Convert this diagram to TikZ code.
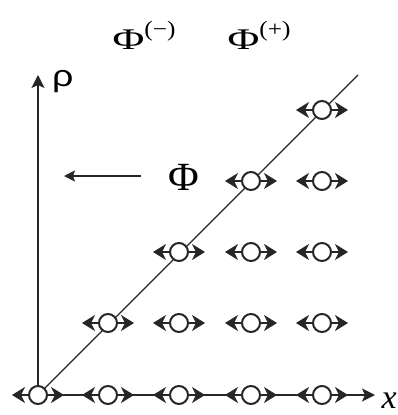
\documentclass[tikz,border=0pt]{standalone}
\usepackage{fontspec}
\usepackage{graphicx}
\newfontfamily\serifgr{Liberation Serif}
\newfontfamily\sansgr{Liberation Sans}
\usetikzlibrary{arrows.meta}
\begin{document}
\begin{tikzpicture}[x=1pt,y=-1pt,
  site/.style={circle,draw=black!85,fill=white,line width=2pt,minimum size=18pt,inner sep=0pt},
  harr/.style={line width=1.8pt,draw=black!85,-{Stealth[length=13pt,width=16pt,inset=4pt]}},
  axis/.style={line width=1.4pt,draw=black!85},
  axarr/.style={axis,-{Stealth[length=13pt,width=13pt,inset=3pt]}}]
\useasboundingbox (0,0) rectangle (398,415);
% axes
\coordinate (O) at (38,395);
\coordinate (ytip) at (38,75);
\coordinate (xtip) at (375,395);
\coordinate (dend) at (358,75);
\draw[axarr] (O) -- (ytip);
\draw[axarr] (O) -- (xtip);
\draw[axis,line width=1.2pt] (O) -- (dend);
% labels
\node[font=\sansgr\fontsize{30}{30}\selectfont,anchor=base west,inner sep=0pt] (rho) at (52,86) {\scalebox{1.25}[1]{ρ}};
\node[font=\serifgr\itshape\fontsize{34}{34}\selectfont,anchor=base east,inner sep=0pt] (xl) at (397,408) {x};
\node[font=\serifgr\fontsize{40}{40}\selectfont,inner sep=0pt] (phi) at (184,177) {\scalebox{1.05}[1]{Φ}};
\coordinate (phiarr) at (64,176);
\draw[line width=1.4pt,draw=black!85,-{Stealth[length=11pt,width=11pt,inset=2pt]}] (141,176) -- (phiarr);
\node[font=\serifgr\fontsize{30}{30}\selectfont,anchor=base,inner sep=0pt] (phim) at (144,49) {\scalebox{1.45}[1]{Φ}\raisebox{13pt}{\fontsize{22}{22}\selectfont\scalebox{1.15}[1]{(−)}}};
\node[font=\serifgr\fontsize{30}{30}\selectfont,anchor=base,inner sep=0pt] (phip) at (259,49) {\scalebox{1.45}[1]{Φ}\raisebox{13pt}{\fontsize{22}{22}\selectfont\scalebox{1.15}[1]{(+)}}};
% sites
\foreach \i/\xx in {0/38,1/108,2/179,3/251,4/322}{
  \foreach \j/\yy in {0/395,1/323,2/252,3/181,4/110}{
    \ifnum\j>\i\else
      \node[site] (s\i\j) at (\xx,\yy) {};
      \draw[harr] (s\i\j.east) -- ++(16,0);
      \draw[harr] (s\i\j.west) -- ++(-16,0);
    \fi
  }
}
\end{tikzpicture}
\end{document}
